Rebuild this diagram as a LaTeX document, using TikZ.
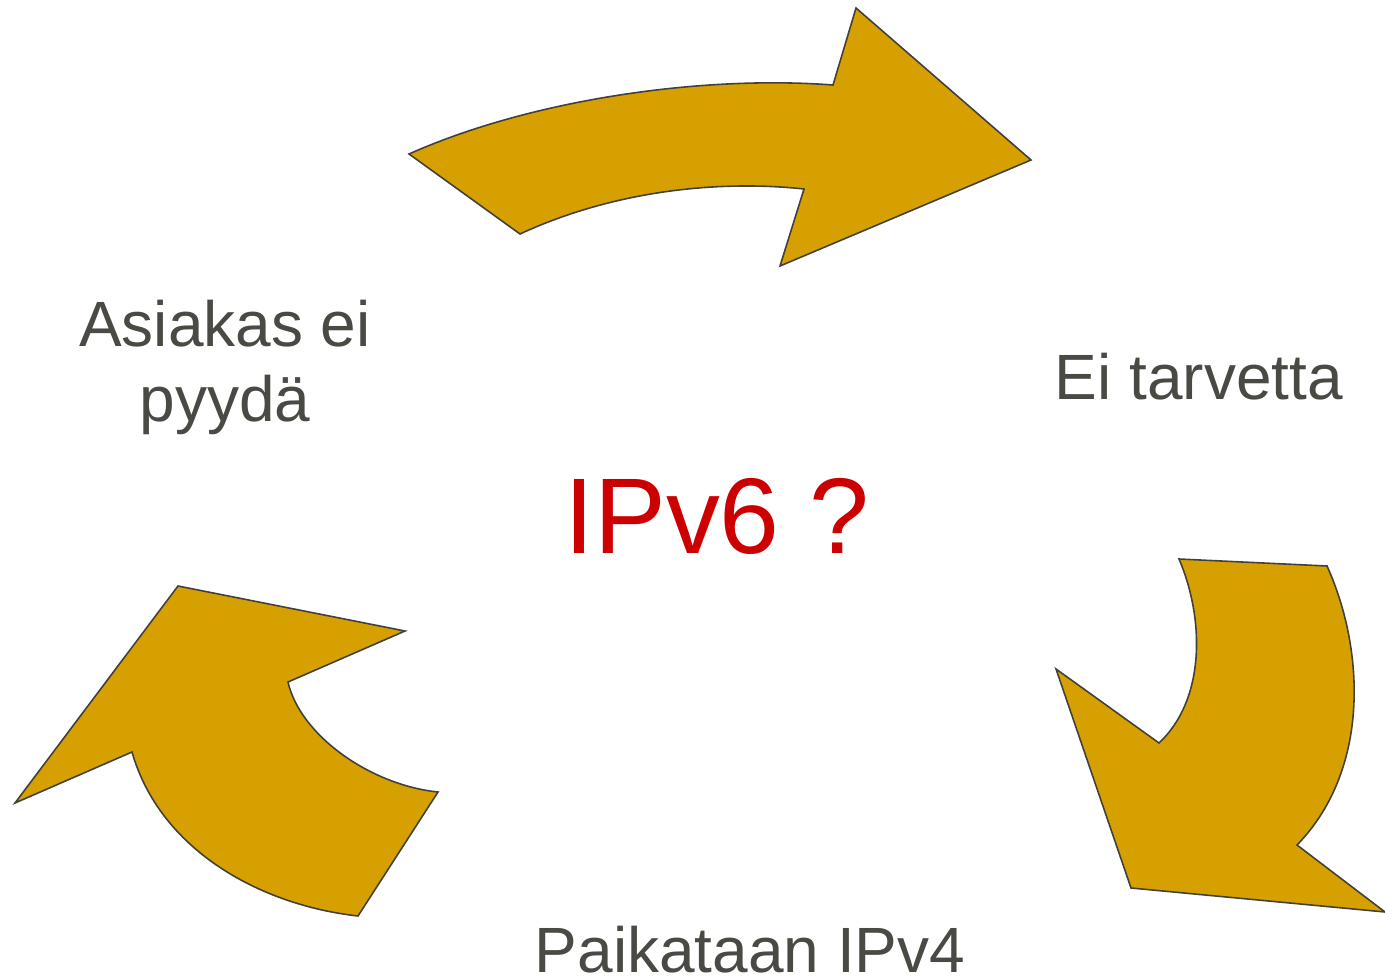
\documentclass[tikz,border=0pt]{standalone}
\usepackage{fontspec}
\setmainfont{Liberation Sans}
\usepackage{tikz}
\definecolor{gold}{RGB}{214,161,0}
\definecolor{edge}{RGB}{64,64,60}
\definecolor{txt}{RGB}{74,74,68}
\definecolor{ipred}{RGB}{204,0,0}
\begin{document}
\begin{tikzpicture}[x=0.01cm, y=-0.01cm,
  garrow/.style={fill=gold, draw=edge, line width=0.45pt, line join=miter},
  lbl/.style={text=txt, inner sep=0pt, font=\fontsize{18.2}{21.3}\selectfont},
  big/.style={text=ipred, inner sep=0pt, font=\fontsize{30.6}{36}\selectfont}]
\useasboundingbox (0,0) rectangle (1385,979);
% top arrow
\draw[garrow] (409,154) .. controls (530,100) and (700,75) .. (833,85)
  -- (856,8) -- (1031,160) -- (780,266) -- (804,189)
  .. controls (720,180) and (615,190) .. (520,234) -- cycle;
% right arrow
\draw[garrow] (1179,559) -- (1327,566)
  .. controls (1365,650) and (1370,770) .. (1297,845)
  -- (1385,912) -- (1131,888) -- (1056,669) -- (1159,743)
  .. controls (1205,700) and (1205,620) .. (1179,559) -- cycle;
% left arrow
\draw[garrow] (178,586) -- (405,631) -- (288,682)
  .. controls (300,735) and (370,785) .. (438,792)
  -- (358,916) .. controls (260,905) and (160,850) .. (132,752)
  -- (15,803) -- cycle;
% labels
\node[lbl, anchor=base, align=center] (cust) at (225,421) {Asiakas ei\\pyydä};
\node[lbl, anchor=base] (need) at (1199,399) {Ei tarvetta};
\node[lbl, anchor=base] (patch) at (750,972) {Paikataan IPv4};
\node[big, anchor=base] (ipv6) at (717,553) {IPv6 ?};
\end{tikzpicture}
\end{document}
